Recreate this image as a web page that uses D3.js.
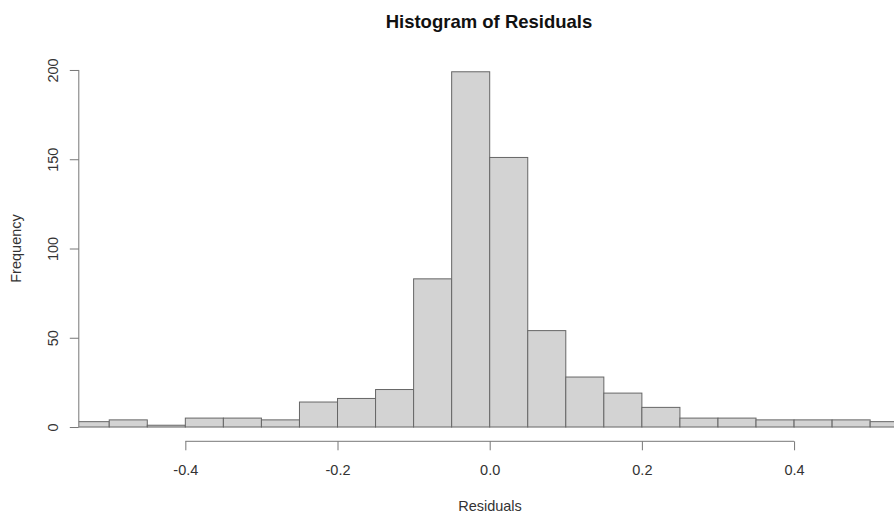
<!DOCTYPE html>
<html><head><meta charset="utf-8">
<script src="https://cdn.jsdelivr.net/npm/d3@7"></script>
<style>body{margin:0;background:#fff}svg{display:block}text{font-family:"Liberation Sans",Arial,sans-serif}</style>
</head><body>
<svg id="c" width="894" height="514"></svg>
<script>
const binStarts = [-0.55,-0.5,-0.45,-0.4,-0.35,-0.3,-0.25,-0.2,-0.15,-0.1,-0.05,0,0.05,0.1,0.15,0.2,0.25,0.3,0.35,0.4,0.45,0.5];
const counts    = [3,4,1,5,5,4,14,16,21,83,199,151,54,28,19,11,5,5,4,4,4,3];
const binWidth = 0.05;
const xTicks = [-0.4,-0.2,0,0.2,0.4];
const yTicks = [0,50,100,150,200];
const title = "Histogram of Residuals";
const xLabel = "Residuals";
const yLabel = "Frequency";

const svg = d3.select("#c");
const x = d3.scaleLinear().domain([-0.54,0.54]).range([78.8,900.6]);
const y = d3.scaleLinear().domain([-8,208]).range([441.3,55.7]);

svg.append("clipPath").attr("id","pr").append("rect")
  .attr("x",x(-0.54)).attr("y",y(208)).attr("width",x(0.54)-x(-0.54)).attr("height",y(-8)-y(208));

svg.append("g").attr("clip-path","url(#pr)")
  .selectAll("rect").data(binStarts).join("rect")
  .attr("x",d=>x(d)).attr("width",d=>x(d+binWidth)-x(d))
  .attr("y",(d,i)=>y(counts[i])).attr("height",(d,i)=>y(0)-y(counts[i]))
  .attr("fill","#d3d3d3").attr("stroke","#666").attr("stroke-width",1);

const axCol = "#777";
const fmt = d => d3.format(".1f")(d).replace("\u2212","-");
const xAxis = svg.append("g").attr("transform",`translate(0,${y(-8)})`)
  .call(d3.axisBottom(x).tickValues(xTicks).tickFormat(fmt).tickSizeOuter(0).tickSize(9).tickPadding(14));
xAxis.select(".domain").attr("stroke",axCol).attr("d",`M${x(-0.4)},0H${x(0.4)}`);
xAxis.selectAll(".tick line").attr("stroke",axCol);
xAxis.selectAll(".tick text").attr("fill","#333").attr("font-size","14.5px");

const yAxis = svg.append("g").attr("transform",`translate(${x(-0.54)},0)`)
  .call(d3.axisLeft(y).tickValues(yTicks).tickSizeOuter(0).tickSize(9).tickFormat(d3.format("d")));
yAxis.select(".domain").attr("stroke",axCol).attr("d",`M0,${y(0)}V${y(200)}`);
yAxis.selectAll(".tick line").attr("stroke",axCol);
yAxis.selectAll(".tick text").attr("fill","#333").attr("font-size","14.5px")
  .attr("transform","rotate(-90)").attr("x",0).attr("y",-20.5).attr("dy","0").attr("text-anchor","middle");

svg.append("text").attr("x",489).attr("y",28).attr("text-anchor","middle")
  .attr("font-weight","bold").attr("font-size","18.5px").attr("fill","#111").text(title);
svg.append("text").attr("x",490).attr("y",511).attr("text-anchor","middle")
  .attr("font-size","14.5px").attr("fill","#333").text(xLabel);
svg.append("text").attr("transform",`translate(21,${y(100)}) rotate(-90)`).attr("text-anchor","middle")
  .attr("font-size","14.5px").attr("fill","#333").text(yLabel);
</script>
</body></html>
